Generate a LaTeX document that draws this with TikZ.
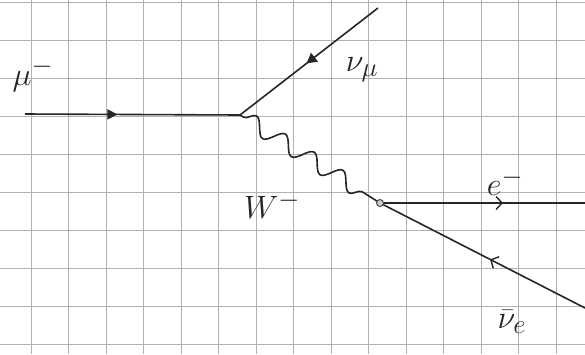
\documentclass[tikz,border=0pt]{standalone}
\usetikzlibrary{arrows.meta,decorations.markings,decorations.pathmorphing}
\tikzset{
  gridline/.style={gray!60, line width=0.9pt},
  fermion/.style={black!85, line width=1.6pt},
  midarrow/.style={postaction={decorate, decoration={markings,
      mark=at position #1 with {\arrow{Triangle[length=10pt,width=10pt]}}}}},
  midrarrow/.style={postaction={decorate, decoration={markings,
      mark=at position #1 with {\arrow{Triangle[reversed,length=10pt,width=11pt]}}}}},
  midbarb/.style={postaction={decorate, decoration={markings,
      mark=at position #1 with {\arrow{Straight Barb[length=6pt,width=13pt,line width=1.4pt]}}}}},
  midrbarb/.style={postaction={decorate, decoration={markings,
      mark=at position #1 with {\arrow{Straight Barb[reversed,length=6pt,width=13pt,line width=1.4pt]}}}}},
  boson/.style={black!85, line width=1.6pt, decorate,
    decoration={snake, amplitude=8pt, segment length=34pt, pre length=4pt, post length=8pt}},
  label/.style={black!85, font=\Huge, scale=1.3}
}
\begin{document}
\begin{tikzpicture}[x=1pt, y=-1pt]
  \useasboundingbox (0,0) rectangle (585,354);
  \fill[white] (0,0) rectangle (585,354);
  \foreach \i in {0,...,14}
    \draw[gridline] ({31+37.5*\i},0) -- ++(0,354);
  \foreach \j in {0,...,9}
    \draw[gridline] (0,{2+38*\j}) -- ++(585,0);

  \coordinate (mu) at (25,114);
  \coordinate (v1) at (240,115);
  \coordinate (numu) at (378,8);
  \coordinate (v2) at (380,203);
  \coordinate (el) at (585,203);
  \coordinate (nue) at (585,308);

  \draw[fermion, midarrow=0.43] (mu) -- (v1);
  \draw[fermion, midrarrow=0.54] (v1) -- (numu);
  \draw[boson] (v1) -- (v2);
  \draw[fermion, midbarb=0.6] (v2) -- (el);
  \draw[fermion, midrbarb=0.57] (v2) -- (nue);
  \filldraw[black!70, fill=gray!40, line width=1pt] (v2) circle (3.5pt);

  \node[label] (lmu) at (33,75) {$\mu^-$};
  \node[label] (lnumu) at (362,70) {$\nu_\mu$};
  \node[label] (lw) at (272,205) {$W^-$};
  \node[label] (le) at (505,182) {$e^-$};
  \node[label] (lnue) at (512,322) {$\bar{\nu}_e$};
\end{tikzpicture}
\end{document}
